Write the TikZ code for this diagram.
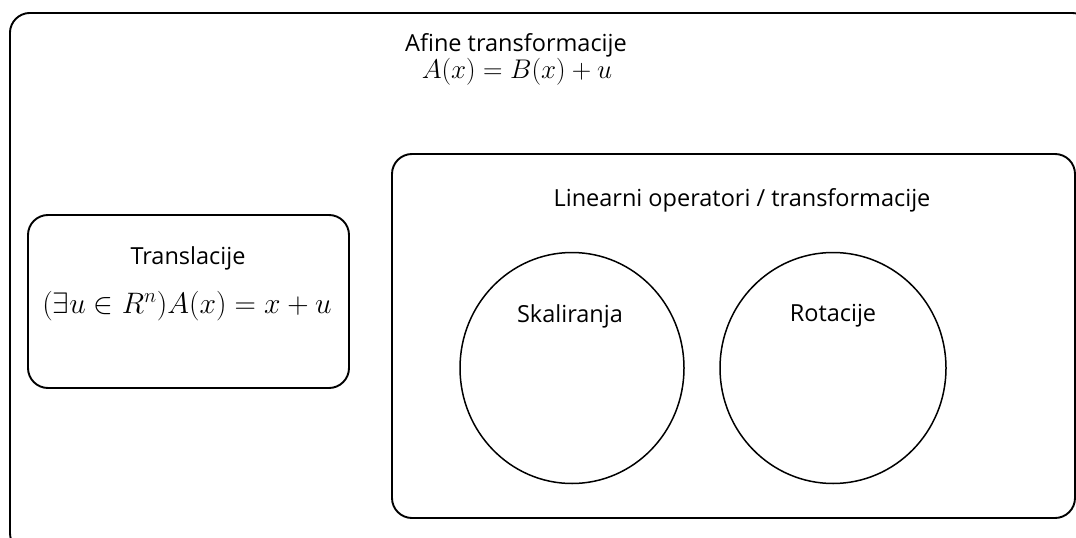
\RequirePackage{fix-cm}
\documentclass[tikz,border=0pt]{standalone}
\usepackage{fontspec}
\setmainfont{Open Sans}
\usetikzlibrary{positioning}
\usetikzlibrary{shapes.geometric}

\tikzset{
  box/.style={draw, line width=1.9pt, rounded corners=20pt},
  set/.style={draw, line width=1.5pt, ellipse, inner sep=0pt},
  lbl/.style={font=\fontsize{23.5}{28}\selectfont, inner sep=0pt},
  frm/.style={font=\fontsize{27}{32}\selectfont, inner sep=0pt}
}

\begin{document}
\begin{tikzpicture}[x=1pt,y=-1pt]
\useasboundingbox (0,0) rectangle (1076,538);
\clip (0,0) rectangle (1076,538);

% outer set, runs off the page
\node[box, minimum width=1082pt, minimum height=540pt, anchor=north west] (afine) at (9,12) {};
\node[lbl] (afinetxt) at (516,45) {Afine transformacije};
\node[frm] (afinefrm) at (517,72) {$A(x) = B(x) + u$};

\node[box, minimum width=321pt, minimum height=173pt] (trans) at (188.5,301.5) {};
\node[lbl] (transtxt) at (188,258) {Translacije};
\node[frm, font=\fontsize{29.6}{35}\selectfont] (transfrm) at (187,306) {$(\exists u \in R^n) A(x) = x + u$};

\node[box, minimum width=683pt, minimum height=364pt] (lin) at (733.5,336) {};
\node[lbl] (lintxt) at (742,200) {Linearni operatori / transformacije};

\node[set, minimum width=224pt, minimum height=231pt] (skal) at (572,368) {};
\node[lbl] (skaltxt) at (570,316) {Skaliranja};

\node[set, minimum width=226pt, minimum height=231pt] (rot) at (833,368) {};
\node[lbl] (rottxt) at (833,316) {Rotacije};

\end{tikzpicture}
\end{document}
